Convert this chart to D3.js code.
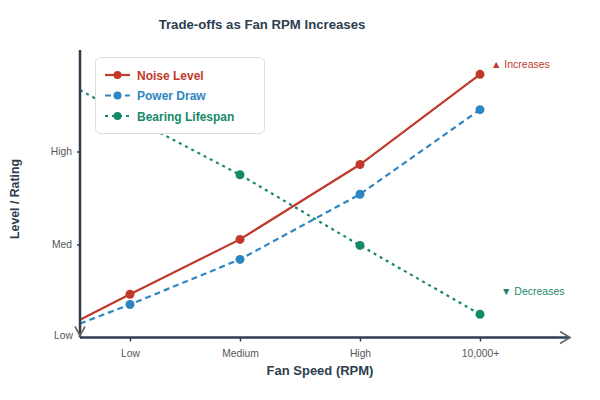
<!DOCTYPE html>
<html>
<head>
<meta charset="utf-8">
<script src="https://cdn.jsdelivr.net/npm/d3@7"></script>
<style>
  body { margin: 0; background: #fff; }
  svg { display: block; font-family: "Liberation Sans", Arial, sans-serif; }
</style>
</head>
<body>
<svg id="chart" width="600" height="400"></svg>
<script>
// ---- data ----
const categories = ["Low", "Medium", "High", "10,000+"];
const speedPos = [0, 0.5, 1.6, 2.8, 4.0];          // relative fan speed (0 = axis origin)
const yTickLabels = ["Low", "Med", "High"];
const noiseLevel   = [0.19, 0.465, 1.055, 1.86, 2.83];
const powerDraw    = [0.15, 0.355, 0.84, 1.54, 2.45];
const bearingLife  = [2.66, 2.37, 1.75, 0.99, 0.25];
const seriesNames  = ["Noise Level", "Power Draw", "Bearing Lifespan"];
const annotations  = ["▲ Increases", "▼ Decreases"];

const colors = ["#c0392b", "#2e86c1", "#17896b"];
const dashes = [null, "6,4", "3,4"];
const seriesVals = [noiseLevel, powerDraw, bearingLife];

const svg = d3.select("#chart");
const x0 = 80, yBase = 337.5;
const x = d3.scaleLinear().domain([0, 4.9]).range([x0, 570]);
const y = d3.scaleLinear().domain([0, 1]).range([yBase, yBase - 93]);
const axisColor = "#2c3e50";

// title
svg.append("text").attr("x", 262).attr("y", 29).attr("text-anchor", "middle")
  .attr("font-size", 13.2).attr("font-weight", "bold").attr("fill", axisColor)
  .text("Trade-offs as Fan RPM Increases");

// series lines
const line = d3.line().x((d, i) => x(speedPos[i])).y(d => y(d));
seriesVals.forEach((vals, s) => {
  svg.append("path").datum(vals).attr("d", line)
    .attr("fill", "none").attr("stroke", colors[s]).attr("stroke-width", 2.2)
    .attr("stroke-dasharray", dashes[s]);
  svg.selectAll(null).data(vals.slice(1)).enter().append("circle")
    .attr("cx", (d, i) => x(speedPos[i + 1])).attr("cy", d => y(d))
    .attr("r", 4.5).attr("fill", colors[s]);
});

// axes
const xAxis = d3.axisBottom(x).tickValues(speedPos.slice(1))
  .tickFormat((d, i) => categories[i]).tickSize(4).tickPadding(8);
const gx = svg.append("g").attr("transform", `translate(0,${yBase})`).call(xAxis);
gx.select(".domain").remove();
gx.selectAll(".tick line").attr("stroke", axisColor).attr("stroke-width", 1.5);
gx.selectAll(".tick text").attr("font-size", 10.3).attr("fill", "#555")
  .attr("font-family", "Liberation Sans, Arial, sans-serif");

const yAxis = d3.axisLeft(y).tickValues([0, 1, 2])
  .tickFormat((d, i) => yTickLabels[i]).tickSize(3).tickPadding(5);
const gy = svg.append("g").attr("transform", `translate(${x0},0)`).call(yAxis);
gy.select(".domain").remove();
gy.selectAll(".tick line").attr("stroke", axisColor).attr("stroke-width", 1.5);
gy.selectAll(".tick text").attr("font-size", 10.3).attr("fill", "#555")
  .attr("font-family", "Liberation Sans, Arial, sans-serif");
gy.selectAll(".tick").filter(d => d === 0).select("line").remove();
gy.selectAll(".tick").filter(d => d === 0).select("text").attr("dy", "0.1em").attr("x", -7);

// axis lines
svg.append("line").attr("x1", x0).attr("x2", x0).attr("y1", 50).attr("y2", yBase)
  .attr("stroke", axisColor).attr("stroke-width", 2.5);
svg.append("line").attr("x1", x0).attr("x2", 570).attr("y1", yBase).attr("y2", yBase)
  .attr("stroke", axisColor).attr("stroke-width", 2.5);
// arrow heads
svg.append("path").attr("d", `M${560},${yBase - 6}L${570},${yBase}L${560},${yBase + 6}`)
  .attr("fill", "none").attr("stroke", "#666").attr("stroke-width", 1.6);
svg.append("path").attr("d", `M${x0 - 5},${yBase - 11}L${x0},${yBase - 2}L${x0 + 5},${yBase - 11}`)
  .attr("fill", "none").attr("stroke", "#666").attr("stroke-width", 1.6);

// axis titles
svg.append("text").attr("x", 320).attr("y", 375).attr("text-anchor", "middle")
  .attr("font-size", 13).attr("font-weight", "bold").attr("fill", axisColor)
  .text("Fan Speed (RPM)");
svg.append("text").attr("transform", "translate(19,199) rotate(-90)").attr("text-anchor", "middle")
  .attr("font-size", 12.3).attr("font-weight", "bold").attr("fill", axisColor)
  .text("Level / Rating");

// annotations
svg.append("text").attr("x", 491).attr("y", 68).attr("font-size", 10.5)
  .attr("fill", colors[0]).text(annotations[0]);
svg.append("text").attr("x", 501).attr("y", 295).attr("font-size", 10.5)
  .attr("fill", colors[2]).text(annotations[1]);

// legend
const lg = svg.append("g");
lg.append("rect").attr("x", 95.5).attr("y", 57.5).attr("width", 169).attr("height", 76)
  .attr("rx", 5).attr("fill", "#fff").attr("stroke", "#dcdcdc").attr("stroke-width", 1);
seriesNames.forEach((name, s) => {
  const ry = 75 + s * 20.5;
  lg.append("line").attr("x1", 105).attr("x2", 130).attr("y1", ry).attr("y2", ry)
    .attr("stroke", colors[s]).attr("stroke-width", 2.2).attr("stroke-dasharray", dashes[s]);
  lg.append("circle").attr("cx", 117.5).attr("cy", ry).attr("r", 4).attr("fill", colors[s]);
  lg.append("text").attr("x", 137).attr("y", ry + 4.5).attr("font-size", 12)
    .attr("font-weight", "bold").attr("fill", colors[s]).text(name);
});
</script>
</body>
</html>
